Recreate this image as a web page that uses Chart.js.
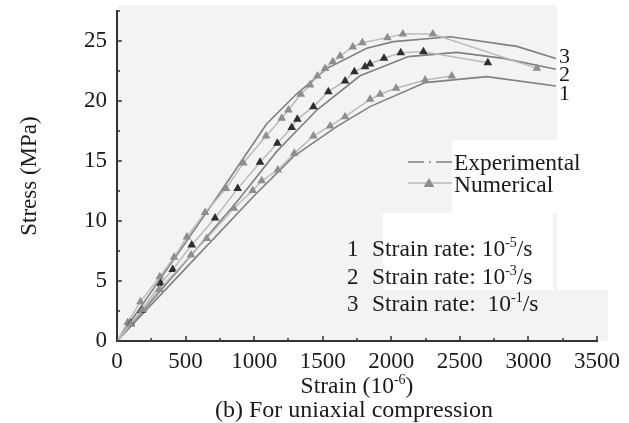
<!DOCTYPE html>
<html>
<head>
<meta charset="utf-8">
<script src="https://cdn.jsdelivr.net/npm/chart.js@4.4.1/dist/chart.umd.min.js"></script>
<style>
  html, body { margin: 0; padding: 0; background: #fff; }
  #wrap { width: 629px; height: 423px; }
</style>
</head>
<body>
<div id="wrap"><canvas id="stressChart" width="629" height="423"></canvas></div>
<script>
// experimental curves (strain in 1e-6, stress in MPa)
const exp1Strain = [0, 500, 1000, 1286, 1602, 1845, 2247, 2697, 3200];
const exp1Stress = [0, 6.05, 12.1, 15.36, 17.86, 19.53, 21.53, 22.03, 21.25];
const exp2Strain = [0, 500, 885, 1165, 1457, 1772, 2125, 2477, 2818, 3200];
const exp2Stress = [0, 6.6, 11.75, 15.8, 19.25, 22.1, 23.7, 24.05, 23.55, 22.65];
const exp3Strain = [0, 500, 715, 1092, 1311, 1529, 1821, 2016, 2429, 2916, 3200];
const exp3Stress = [0, 8.2, 11.75, 18.1, 20.6, 22.7, 24.4, 24.95, 25.35, 24.55, 23.55];

// numerical curves
const num1Strain = [0, 100, 187, 309, 540, 654, 853, 990, 1055, 1172, 1293, 1432, 1554, 1663, 1845, 1918, 2035, 2247, 2441];
const num1Stress = [0, 1.4, 2.6, 4.3, 7.17, 8.55, 11.06, 12.55, 13.35, 14.25, 15.64, 17.08, 17.92, 18.69, 20.14, 20.56, 21.06, 21.75, 22.08];
const num2Strain = [0, 100, 180, 319, 406, 545, 715, 880, 1043, 1169, 1274, 1315, 1432, 1541, 1663, 1731, 1809, 1845, 1947, 2069, 2234, 2704];
const num2Stress = [0, 1.47, 2.55, 4.8, 5.95, 8.0, 10.25, 12.7, 14.9, 16.47, 17.8, 18.47, 19.53, 20.78, 21.67, 22.44, 22.86, 23.08, 23.56, 24.03, 24.11, 23.19];
const num3Strain = [0, 78, 171, 312, 416, 510, 642, 795, 921, 1087, 1201, 1250, 1340, 1408, 1461, 1517, 1573, 1627, 1719, 1789, 1972, 2084, 2303, 3062];
const num3Stress = [0, 1.55, 3.28, 5.36, 6.97, 8.67, 10.7, 12.7, 14.83, 17.08, 18.56, 19.25, 20.56, 21.33, 22.08, 22.7, 23.28, 23.75, 24.5, 24.86, 25.28, 25.58, 25.58, 22.72];

const xMax = 3500;
const xStep = 250;
const yMax = 27.5;
const yStep = 2.5;

const curveLabels = ["3", "2", "1"];
const rateLabels = [
  [{ t: "Strain rate: 10" }, { t: "-5", sup: true }, { t: "/s" }],
  [{ t: "Strain rate: 10" }, { t: "-3", sup: true }, { t: "/s" }],
  [{ t: "Strain rate:  10" }, { t: "-1", sup: true }, { t: "/s" }]
];

const SERIF = "'Liberation Serif', 'Times New Roman', serif";
const TEXT = "#1a1a1a";

function pts(xs, ys) {
  return xs.map((x, i) => ({ x, y: ys[i] }));
}

function expSet(label, xs, ys) {
  return {
    label,
    data: pts(xs, ys),
    borderColor: "#808080",
    borderWidth: 1.6,
    pointRadius: 0,
    tension: 0,
    fill: false
  };
}

function numSet(label, xs, ys, color) {
  return {
    label,
    data: pts(xs, ys),
    borderColor: "#bababa",
    borderWidth: 1.5,
    pointStyle: "triangle",
    pointRadius: (c) => (c.dataIndex === 0 ? 0 : 5),
    pointBackgroundColor: color,
    pointBorderColor: color,
    pointBorderWidth: 0,
    tension: 0,
    fill: false
  };
}

function drawRich(ctx, parts, x, y, size, align) {
  const big = size + "px " + SERIF;
  const small = Math.round(size * 0.6) + "px " + SERIF;
  let w = 0;
  parts.forEach((p) => {
    ctx.font = p.sup ? small : big;
    w += ctx.measureText(p.t).width;
  });
  let cx = align === "center" ? x - w / 2 : x;
  ctx.textAlign = "left";
  ctx.textBaseline = "alphabetic";
  parts.forEach((p) => {
    ctx.font = p.sup ? small : big;
    ctx.fillText(p.t, cx, p.sup ? y - size * 0.38 : y);
    cx += ctx.measureText(p.t).width;
  });
}

const decor = {
  id: "decor",
  beforeDraw(chart) {
    const ctx = chart.ctx;
    ctx.save();
    ctx.fillStyle = "#f3f3f3";
    ctx.fillRect(118, 5, 439, 336);
    ctx.fillRect(553, 290, 55, 51);
    ctx.fillStyle = "#ffffff";
    ctx.fillRect(452, 140, 105, 73);
    ctx.fillRect(383, 213, 170, 77);
    ctx.restore();
  },
  afterDraw(chart) {
    const ctx = chart.ctx;
    const xs = chart.scales.x;
    const ys = chart.scales.y;
    const area = chart.chartArea;
    ctx.save();
    // inward tick marks
    ctx.strokeStyle = "#333";
    ctx.lineWidth = 1.5;
    for (let v = 0; v <= xMax; v += xStep) {
      const px = Math.round(xs.getPixelForValue(v));
      const len = v % 500 === 0 ? 5 : 3;
      ctx.beginPath();
      ctx.moveTo(px, area.bottom);
      ctx.lineTo(px, area.bottom - len);
      ctx.stroke();
    }
    for (let v = 0; v <= yMax; v += yStep) {
      const py = Math.round(ys.getPixelForValue(v));
      const len = v % 5 === 0 ? 5 : 3;
      ctx.beginPath();
      ctx.moveTo(area.left, py);
      ctx.lineTo(area.left + len, py);
      ctx.stroke();
    }

    ctx.fillStyle = TEXT;
    // x title and caption
    const midX = (area.left + area.right) / 2;
    drawRich(ctx, [{ t: "Strain (10" }, { t: "-6", sup: true }, { t: ")" }], midX, 393, 23.5, "center");
    drawRich(ctx, [{ t: "(b) For uniaxial compression" }], midX - 3, 417, 24, "center");

    // curve numbers at right
    [63, 81, 100].forEach((by, i) => {
      drawRich(ctx, [{ t: curveLabels[i] }], 559, by, 22, "left");
    });

    // legend
    ctx.strokeStyle = "#808080";
    ctx.lineWidth = 1.5;
    ctx.setLineDash([16, 5, 2, 5]);
    ctx.beginPath();
    ctx.moveTo(408, 162);
    ctx.lineTo(452, 162);
    ctx.stroke();
    ctx.setLineDash([]);
    ctx.strokeStyle = "#bababa";
    ctx.beginPath();
    ctx.moveTo(408, 183);
    ctx.lineTo(452, 183);
    ctx.stroke();
    ctx.fillStyle = "#8e8e8e";
    ctx.beginPath();
    ctx.moveTo(429, 178);
    ctx.lineTo(434.5, 187);
    ctx.lineTo(423.5, 187);
    ctx.closePath();
    ctx.fill();
    ctx.fillStyle = TEXT;
    drawRich(ctx, [{ t: "Experimental" }], 454, 170, 23.5, "left");
    drawRich(ctx, [{ t: "Numerical" }], 454, 192, 23.5, "left");

    // strain rate notes
    [256, 284, 311].forEach((by, i) => {
      drawRich(ctx, [{ t: String(i + 1) }], 347, by, 23, "left");
      drawRich(ctx, rateLabels[i], 372, by, 23.5, "left");
    });
    ctx.restore();
  }
};

new Chart(document.getElementById("stressChart"), {
  type: "line",
  data: {
    datasets: [
      numSet("Numerical 1", num1Strain, num1Stress, "#8e8e8e"),
      numSet("Numerical 2", num2Strain, num2Stress, "#2e2e2e"),
      numSet("Numerical 3", num3Strain, num3Stress, "#8e8e8e"),
      expSet("Experimental 1", exp1Strain, exp1Stress),
      expSet("Experimental 2", exp2Strain, exp2Stress),
      expSet("Experimental 3", exp3Strain, exp3Stress)
    ]
  },
  options: {
    responsive: false,
    animation: false,
    layout: { padding: { left: 0, right: 32, top: 11, bottom: 0 } },
    plugins: {
      legend: { display: false },
      tooltip: { enabled: false }
    },
    scales: {
      x: {
        type: "linear",
        min: 0,
        max: xMax,
        border: { display: true, color: "#333", width: 2 },
        grid: { display: true, drawOnChartArea: false, drawTicks: false },
        ticks: {
          stepSize: xStep,
          padding: 7,
          autoSkip: false,
          maxRotation: 0,
          color: TEXT,
          font: { family: SERIF, size: 23 },
          callback: (v) => (v % 500 === 0 ? String(v) : "")
        },
        afterFit: (s) => { s.height = 82; }
      },
      y: {
        min: 0,
        max: yMax,
        border: { display: true, color: "#333", width: 2 },
        grid: { display: true, drawOnChartArea: false, drawTicks: false },
        title: {
          display: true,
          text: "Stress (MPa)",
          color: TEXT,
          font: { family: SERIF, size: 23 },
          padding: { top: 16, bottom: 0 }
        },
        ticks: {
          stepSize: yStep,
          padding: 10,
          autoSkip: false,
          color: TEXT,
          font: { family: SERIF, size: 23 },
          callback: (v) => (v % 5 === 0 ? String(v) : "")
        },
        afterFit: (s) => { s.width = 117; s.paddingTop = 0; }
      }
    }
  },
  plugins: [decor]
});
</script>
</body>
</html>
